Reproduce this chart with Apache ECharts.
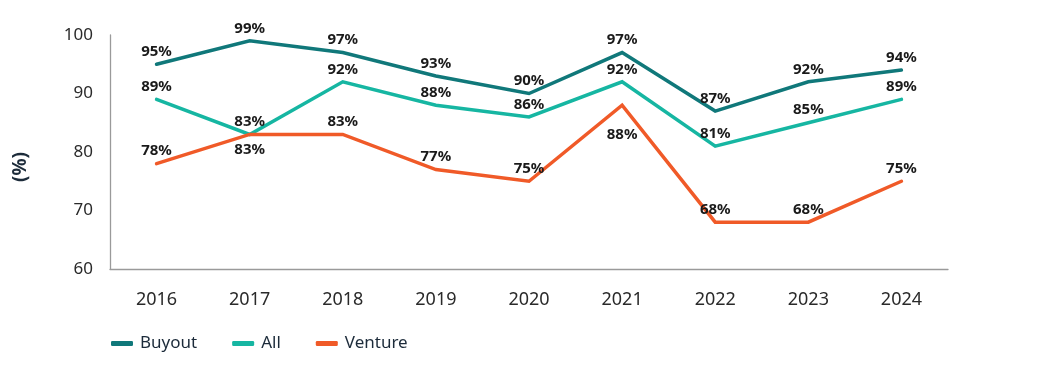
<!DOCTYPE html>
<html><head><meta charset="utf-8">
<script src="https://cdn.jsdelivr.net/npm/echarts@6/dist/echarts.min.js"></script>
<style>html,body{margin:0;padding:0;background:#fff}#c{width:1062px;height:366px}</style>
</head><body><div id="c"></div>
<script>
var categories = ['2016','2017','2018','2019','2020','2021','2022','2023','2024'];
var buyout = [95, 99, 97, 93, 90, 97, 87, 92, 94];
var all = [89, 83, 92, 88, 86, 92, 81, 85, 89];
var venture = [78, 83, 83, 77, 75, 88, 68, 68, 75];
var yTicks = [60, 70, 80, 90, 100];
var yAxisTitle = '(%)';

// label placement overrides (index -> [position, distance])
var ventureLabelOverrides = {1: ['bottom', 8], 5: ['bottom', 22]};

var FONT = '"Noto Sans", sans-serif';
function mk(name, vals, color, overrides) {
  return {
    name: name, type: 'line', data: vals.map(function (v, i) {
      var o = overrides && overrides[i];
      if (o) return {value: v, label: {position: o[0], distance: o[1]}};
      return v;
    }),
    symbol: 'circle', symbolSize: 0.1, showSymbol: true,
    lineStyle: {color: color, width: 3.5, cap: 'round', join: 'miter'},
    itemStyle: {color: color},
    label: {show: true, position: 'top', distance: 5, color: '#1a1a1a',
      fontFamily: FONT, fontWeight: 'bold', fontSize: 15,
      formatter: function (p) { return p.value + '%'; }},
    emphasis: {disabled: true}, animation: false, z: 2
  };
}
var chart = echarts.init(document.getElementById('c'), null, {renderer: 'canvas'});
chart.setOption({
  animation: false,
  grid: {left: 110, right: 114, top: 35, bottom: 97},
  graphic: [{
    type: 'text', x: 21, y: 167, rotation: Math.PI / 2,
    style: {text: yAxisTitle, fontFamily: FONT, fontSize: 19, fontWeight: 'bold',
      fill: '#1c2b3a', align: 'center', verticalAlign: 'middle'}
  }],
  legend: {
    left: 106, top: 330, itemWidth: 22, itemHeight: 5, itemGap: 35,
    icon: 'roundRect',
    textStyle: {fontFamily: FONT, fontSize: 17, color: '#1c2b3a', padding: [0,0,0,2]},
    data: ['Buyout', 'All', 'Venture']
  },
  xAxis: {
    type: 'category', data: categories, boundaryGap: true,
    axisLine: {lineStyle: {color: '#9a9a9a', width: 1.3}},
    axisTick: {show: false},
    axisLabel: {fontFamily: FONT, fontSize: 18, color: '#2a2a2a', margin: 22}
  },
  yAxis: {
    type: 'value', min: yTicks[0], max: yTicks[yTicks.length - 1], interval: 10,
    axisLine: {show: true, lineStyle: {color: '#9a9a9a', width: 1.3}},
    axisTick: {show: false}, splitLine: {show: false},
    axisLabel: {fontFamily: FONT, fontSize: 17, color: '#2a2a2a', margin: 17}
  },
  series: [
    mk('Buyout', buyout, '#10787a'),
    mk('All', all, '#16b6a2'),
    mk('Venture', venture, '#f05a28', ventureLabelOverrides)
  ]
});
</script></body></html>
